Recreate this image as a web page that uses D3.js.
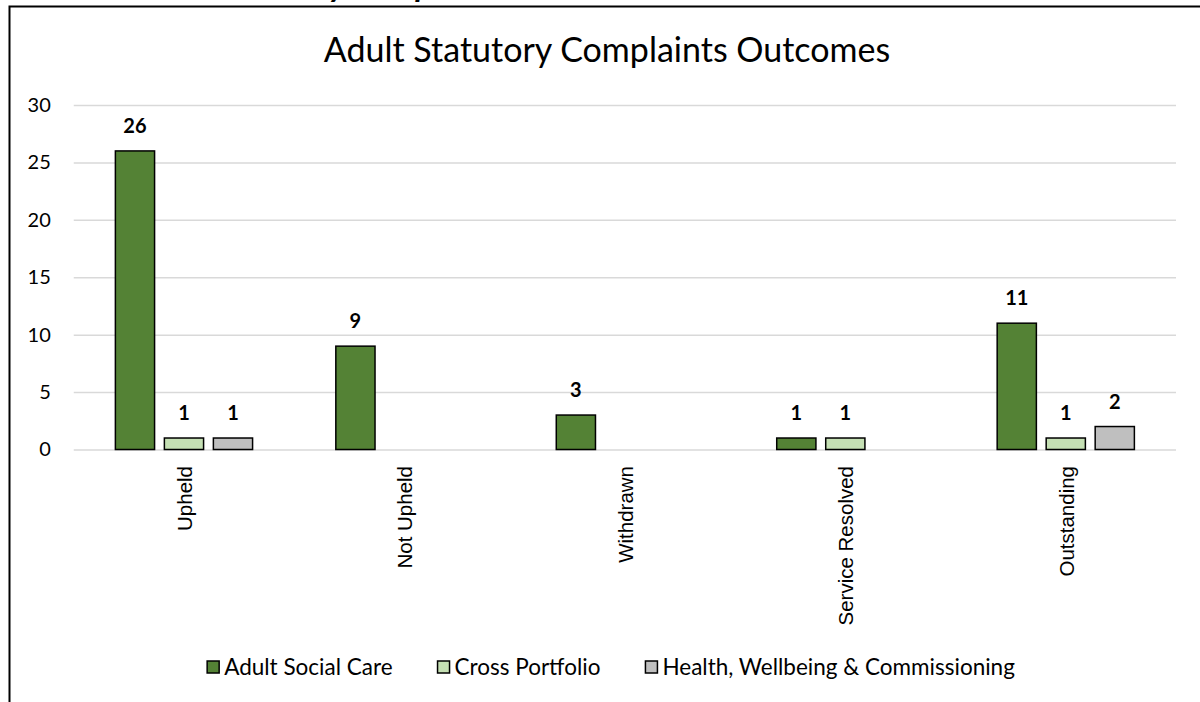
<!DOCTYPE html>
<html>
<head>
<meta charset="utf-8">
<script src="https://cdnjs.cloudflare.com/ajax/libs/d3/7.8.5/d3.min.js"></script>
<style>
    html, body { margin: 0; padding: 0; background: #fff; }
    svg { display: block; }
</style>
</head>
<body>
<svg id="chart"></svg>
<script>
var categories = ['Upheld', 'Not Upheld', 'Withdrawn', 'Service Resolved', 'Outstanding'];
var seriesNames = ['Adult Social Care', 'Cross Portfolio', 'Health, Wellbeing & Commissioning'];
var seriesColours = ['#548235', '#c5e0b4', '#bfbfbf'];
// null = nothing recorded, no bar and no label
var adultSocialCare = [26, 9, 3, 1, 11];
var crossPortfolio = [1, null, null, 1, 1];
var healthWellbeing = [1, null, null, null, 2];
var yTicks = [0, 5, 10, 15, 20, 25, 30];
var chartTitle = 'Adult Statutory Complaints Outcomes';
var tableCaption = 'Table 6: Adult Statutory Complaints Outcomes';

(function () {
    var width = 1200, height = 702;
    var margin = {top: 105, right: 24, bottom: 252.5, left: 73.75};
    var font = 'Lato, "Open Sans", sans-serif';

    var svg = d3.select('#chart').attr('width', width).attr('height', height);

    var values = [adultSocialCare, crossPortfolio, healthWellbeing];
    var rows = [];
    categories.forEach(function (c, i) {
        seriesNames.forEach(function (s, j) {
            rows.push({category: c, series: s, index: j, value: values[j][i]});
        });
    });

    var xScale = d3.scaleBand().domain(categories).range([margin.left, width - margin.right]);
    var yScale = d3.scaleLinear().domain([0, 30]).range([height - margin.bottom, margin.top]);
    var groupWidth = 147;
    var xSub = d3.scaleBand().domain(seriesNames)
        .range([xScale.bandwidth() / 2 - groupWidth / 2, xScale.bandwidth() / 2 + groupWidth / 2])
        .paddingInner(0.2).paddingOuter(0.1);

    // caption of the document above, mostly cut off by the page edge (as in the source)
    svg.append('text')
        .attr('x', 16).attr('y', -3)
        .style('font-family', font).style('font-weight', 'bold').style('font-style', 'italic')
        .style('font-size', '33px')
        .text(tableCaption);

    // frame round the chart
    svg.append('path')
        .attr('d', 'M9.5,' + height + 'V6.5H' + width)
        .attr('fill', 'none').attr('stroke', '#000').attr('stroke-width', 2);

    svg.append('text')
        .attr('x', 607).attr('y', 62)
        .attr('text-anchor', 'middle')
        .style('font-family', font).style('font-size', '34px')
        .text(chartTitle);

    // gridlines
    var yAxis = d3.axisLeft(yScale).tickValues(yTicks).tickSize(-(width - margin.left - margin.right)).tickPadding(23);
    var gy = svg.append('g').attr('transform', 'translate(' + margin.left + ',0)').call(yAxis);
    gy.select('.domain').remove();
    gy.selectAll('.tick line').attr('stroke', '#d9d9d9').attr('stroke-width', 1.5);
    gy.selectAll('.tick text')
        .style('font-family', font).style('font-size', '20px').attr('fill', '#000');

    var bars = svg.append('g').selectAll('rect')
        .data(rows.filter(function (d) { return d.value != null; }))
        .enter();

    bars.append('rect')
        .attr('x', function (d) { return xScale(d.category) + xSub(d.series); })
        .attr('y', function (d) { return yScale(d.value); })
        .attr('width', xSub.bandwidth())
        .attr('height', function (d) { return yScale(0) - yScale(d.value); })
        .attr('fill', function (d) { return seriesColours[d.index]; })
        .attr('stroke', '#000').attr('stroke-width', 1.5);

    bars.append('text')
        .attr('x', function (d) { return xScale(d.category) + xSub(d.series) + xSub.bandwidth() / 2; })
        .attr('y', function (d) { return yScale(d.value) - 18; })
        .attr('text-anchor', 'middle')
        .style('font-family', font).style('font-weight', 'bold').style('font-size', '20px')
        .text(function (d) { return d.value; });

    // category labels, turned on their side
    svg.append('g').selectAll('text')
        .data(categories)
        .enter().append('text')
        .attr('transform', function (d) {
            return 'translate(' + (xScale(d) + xScale.bandwidth() / 2 + 8) + ',466) rotate(-90)';
        })
        .attr('text-anchor', 'end')
        .style('font-family', '"Liberation Sans", Arial, sans-serif').style('font-size', '20.5px')
        .text(function (d) { return d; });

    // legend, laid out from the measured text widths and centred
    var legend = svg.append('g').attr('transform', 'translate(0,667)');
    var items = legend.selectAll('g').data(seriesNames).enter().append('g');
    items.append('rect')
        .attr('x', 0).attr('y', -6).attr('width', 12).attr('height', 12)
        .attr('fill', function (d, i) { return seriesColours[i]; })
        .attr('stroke', '#000').attr('stroke-width', 1.5);
    items.append('text')
        .attr('x', 17).attr('y', 8)
        .style('font-family', font).style('font-size', '22.5px')
        .text(function (d) { return d; });

    var itemGap = 45;
    var widths = [];
    items.each(function () {
        widths.push(17 + d3.select(this).select('text').node().getComputedTextLength());
    });
    var total = d3.sum(widths) + itemGap * (widths.length - 1);
    var pos = 611 - total / 2;
    items.attr('transform', function (d, i) {
        var x = pos;
        pos += widths[i] + itemGap;
        return 'translate(' + x + ',0)';
    });
}());
</script>
</body>
</html>
